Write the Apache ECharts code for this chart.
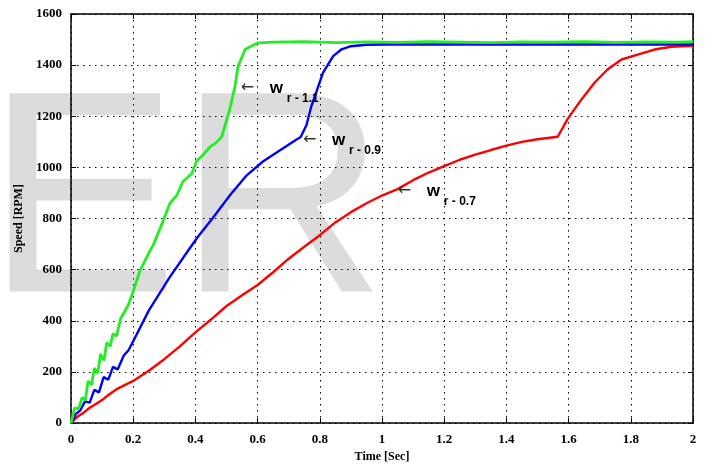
<!DOCTYPE html>
<html>
<head>
<meta charset="utf-8">
<script src="https://cdn.jsdelivr.net/npm/echarts@6/dist/echarts.min.js"></script>
<style>
  html, body { margin: 0; padding: 0; background: #fff; }
  #main { width: 715px; height: 468px; }
</style>
</head>
<body>
<div id="main"></div>
<script>
// speed response of the motor for three rotor values
var timeTicks = [0, 0.2, 0.4, 0.6, 0.8, 1, 1.2, 1.4, 1.6, 1.8, 2];
var speedTicks = [0, 200, 400, 600, 800, 1000, 1200, 1400, 1600];

var tGreen = [0, 0.012, 0.024, 0.036, 0.046, 0.055, 0.066, 0.075, 0.086, 0.095, 0.106, 0.115, 0.126, 0.135, 0.146,
  0.16, 0.184, 0.2, 0.222, 0.254, 0.264, 0.296, 0.318, 0.34, 0.36, 0.388, 0.404, 0.425, 0.447, 0.465, 0.485,
  0.495, 0.51, 0.527, 0.537, 0.56, 0.6, 0.65, 0.75, 0.85, 0.95, 1.05, 1.15, 1.25, 1.35, 1.45, 1.55, 1.65, 1.75,
  1.85, 1.95, 2];
var vGreen = [0, 60, 55, 100, 90, 165, 150, 215, 195, 270, 245, 315, 300, 350, 340,
  410, 461, 515, 597, 674, 695, 790, 860, 890, 945, 975, 1025, 1050, 1080, 1095, 1120,
  1163, 1225, 1315, 1395, 1462, 1487, 1490, 1492, 1488, 1491, 1489, 1492, 1490, 1488, 1491, 1490, 1492, 1489,
  1491, 1490, 1492];

var tBlue = [0, 0.015, 0.03, 0.045, 0.06, 0.075, 0.09, 0.105, 0.12, 0.135, 0.15, 0.17, 0.185, 0.2, 0.25, 0.317,
  0.383, 0.41, 0.456, 0.511, 0.565, 0.617, 0.671, 0.729, 0.738, 0.757, 0.773, 0.789, 0.81, 0.843, 0.87, 0.9, 0.95,
  1, 1.2, 1.4, 1.6, 1.8, 2];
var vBlue = [0, 35, 50, 85, 80, 130, 120, 180, 170, 220, 210, 265, 285, 320, 440, 570,
  686, 732, 802, 891, 969, 1023, 1066, 1112, 1118, 1165, 1240, 1295, 1370, 1435, 1462, 1474, 1480,
  1481, 1481, 1481, 1481, 1481, 1481];

var tRed = [0, 0.02, 0.04, 0.06, 0.08, 0.1, 0.12, 0.15, 0.2, 0.25, 0.3, 0.35, 0.4, 0.45, 0.5, 0.55, 0.6, 0.65,
  0.7, 0.75, 0.8, 0.85, 0.9, 0.95, 1, 1.05, 1.1, 1.15, 1.2, 1.25, 1.3, 1.35, 1.4, 1.45, 1.5, 1.565, 1.597,
  1.642, 1.684, 1.725, 1.77, 1.822, 1.876, 1.93, 2];
var vRed = [0, 25, 40, 60, 75, 90, 110, 135, 165, 205, 250, 300, 355, 405, 458, 500, 540, 590,
  643, 690, 735, 785, 825, 860, 890, 915, 950, 980, 1005, 1030, 1050, 1068, 1085, 1100, 1110, 1120, 1190,
  1267, 1332, 1383, 1422, 1441, 1461, 1472, 1476];

// curve labels: arrow tip in data units
var labelNames = ['r - 1.1', 'r - 0.9', 'r - 0.7'];
var labelT = [0.549, 0.749, 1.054];
var labelV = [1313, 1108, 910];

function pairs(ts, vs) {
  var out = [];
  for (var i = 0; i < ts.length; i++) out.push([ts[i], vs[i]]);
  return out;
}

var serif = '"Liberation Serif", "Times New Roman", serif';
var sans = '"Liberation Sans", Arial, sans-serif';

var myChart = echarts.init(document.getElementById('main'));

var axisCommon = {
  type: 'value',
  axisLine: { show: true, onZero: false, lineStyle: { color: '#000', width: 1.5 } },
  axisTick: { show: true, inside: true, length: 5, lineStyle: { color: '#000' } }
};

var option = {
  backgroundColor: '#fff',
  animation: false,
  grid: { left: 71, right: 22, top: 14, bottom: 40 },
  xAxis: [
    Object.assign({}, axisCommon, {
      min: 0, max: 2, interval: 0.2,
      name: 'Time [Sec]',
      nameLocation: 'middle',
      nameGap: 25,
      nameTextStyle: { fontFamily: serif, fontWeight: 'bold', fontSize: 12, color: '#000' },
      axisLabel: { fontFamily: serif, fontWeight: 'bold', fontSize: 13, color: '#000', margin: 10 },
      splitLine: { show: true, lineStyle: { color: '#000', type: [1.5, 4.5], width: 1 } }
    }),
    Object.assign({}, axisCommon, {
      position: 'top', min: 0, max: 2, interval: 0.2,
      axisLabel: { show: false }, splitLine: { show: false }
    })
  ],
  yAxis: [
    Object.assign({}, axisCommon, {
      min: 0, max: 1600, interval: 200,
      name: 'Speed [RPM]',
      nameLocation: 'middle',
      nameGap: 38,
      nameTextStyle: { fontFamily: serif, fontWeight: 'bold', fontSize: 12, color: '#000' },
      axisLabel: {
        fontFamily: serif, fontWeight: 'bold', fontSize: 13, color: '#000', margin: 9,
        formatter: function (v) { return String(v); }
      },
      splitLine: { show: true, lineStyle: { color: '#000', type: [1.5, 4.5], width: 1 } }
    }),
    Object.assign({}, axisCommon, {
      position: 'right', min: 0, max: 1600, interval: 200,
      axisLabel: { show: false }, splitLine: { show: false }
    })
  ],
  graphic: [{
    type: 'text',
    z: -10,
    silent: true,
    style: {
      text: 'ER',
      x: -14,
      y: 212,
      verticalAlign: 'middle',
      font: '288px ' + sans,
      fill: '#dcdcdc'
    }
  }],
  series: [
    {
      type: 'line', name: 'wr-0.7', data: pairs(tRed, vRed), showSymbol: false,
      lineStyle: { color: '#ff0000', width: 2.4 }, z: 3
    },
    {
      type: 'line', name: 'wr-0.9', data: pairs(tBlue, vBlue), showSymbol: false,
      lineStyle: { color: '#0000ff', width: 2.4 }, z: 4
    },
    {
      type: 'line', name: 'wr-1.1', data: pairs(tGreen, vGreen), showSymbol: false,
      lineStyle: { color: '#22ee22', width: 2.8 }, z: 5
    }
  ]
};
myChart.setOption(option);

// place the arrow + label next to each curve
var extra = [];
for (var i = 0; i < labelNames.length; i++) {
  var p = myChart.convertToPixel({ gridIndex: 0 }, [labelT[i], labelV[i]]);
  extra.push({
    type: 'text', silent: true, z: 10,
    style: { text: '\u2190', x: p[0] - 1, y: p[1], verticalAlign: 'middle',
      font: '16px "DejaVu Sans", sans-serif', fill: '#333' }
  });
  extra.push({
    type: 'text', silent: true, z: 10,
    style: { text: 'w', x: p[0] + 28, y: p[1] + 1, verticalAlign: 'middle',
      font: 'bold 17px ' + sans, fill: '#000' }
  });
  extra.push({
    type: 'text', silent: true, z: 10,
    style: { text: labelNames[i], x: p[0] + 45, y: p[1] + 11, verticalAlign: 'middle',
      font: 'bold 12px ' + sans, fill: '#000' }
  });
}
myChart.setOption({ graphic: option.graphic.concat(extra) });
</script>
</body>
</html>
